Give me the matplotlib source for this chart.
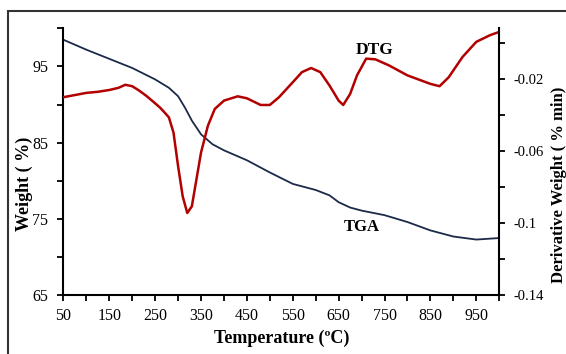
import matplotlib.pyplot as plt
from matplotlib.patches import Rectangle

# TGA curve (weight %, left axis)
tga_temp = [50, 100, 150, 200, 250, 280, 300, 315, 330, 350, 375, 400, 450, 500,
            550, 600, 630, 650, 675, 700, 750, 800, 850, 900, 950, 1000]
tga_weight = [98.5, 97.2, 96.0, 94.8, 93.3, 92.2, 91.1, 89.6, 87.9, 86.1, 84.8, 84.0,
              82.7, 81.1, 79.6, 78.8, 78.1, 77.2, 76.5, 76.1, 75.5, 74.6, 73.5, 72.7,
              72.3, 72.5]

# DTG curve (derivative weight, right axis)
dtg_temp = [50, 75, 100, 125, 150, 170, 185, 200, 215, 230, 245, 260, 270, 280, 290,
            300, 310, 320, 330, 340, 350, 365, 380, 400, 430, 450, 480, 500, 520,
            550, 570, 590, 610, 630, 650, 660, 675, 690, 710, 730, 760, 800, 850,
            870, 890, 920, 950, 980, 1000]
dtg_value = [-0.0302, -0.0290, -0.0278, -0.0272, -0.0262, -0.0250, -0.0233, -0.0241,
             -0.0265, -0.0293, -0.0325, -0.0358, -0.0385, -0.0414, -0.0498, -0.0684,
             -0.0851, -0.0944, -0.0907, -0.0758, -0.0609, -0.0460, -0.0367, -0.0321,
             -0.0297, -0.0308, -0.0345, -0.0345, -0.0302, -0.0219, -0.0163, -0.0140,
             -0.0163, -0.0237, -0.0321, -0.0345, -0.0284, -0.0181, -0.0088, -0.0092,
             -0.0126, -0.0181, -0.0228, -0.0241, -0.0191, -0.0079, 0.0005, 0.0042,
             0.0060]

plt.rcParams['font.family'] = ['Liberation Serif', 'DejaVu Serif']

fig = plt.figure(figsize=(5.66, 3.54), dpi=100)
ax = fig.add_axes([0.112, 0.166, 0.770, 0.754])
ax2 = ax.twinx()

ax.plot(tga_temp, tga_weight, color='#1b2a48', lw=1.3)
ax2.plot(dtg_temp, dtg_value, color='#b30000', lw=1.8)

ax.set_xlim(50, 1000)
ax.set_ylim(65, 100)
ax2.set_ylim(-0.14, 0.008)

ax.set_xticks(range(50, 1000, 100))
ax.set_xticks(range(100, 1001, 100), minor=True)
ax.set_yticks([65, 75, 85, 95])
ax.set_yticks([70, 80, 90, 100], minor=True)
ax2.set_yticks([-0.14, -0.1, -0.06, -0.02])
ax2.set_yticklabels(['-0.14', '-0.1', '-0.06', '-0.02'])
ax2.set_yticks([-0.12, -0.08, -0.04, 0.0], minor=True)

for a in (ax, ax2):
    a.tick_params(which='both', direction='out', length=4, width=1.3,
                  labelsize=11.5, colors='black')
    a.spines['top'].set_visible(False)
    for side in ('left', 'right', 'bottom'):
        a.spines[side].set_linewidth(1.5)
ax.tick_params(axis='x', pad=5)
ax.tick_params(axis='y', pad=7)
ax2.tick_params(axis='y', labelsize=10.5, pad=6)
ax.spines['right'].set_visible(False)
ax2.spines['left'].set_visible(False)
ax2.spines['bottom'].set_visible(False)

ax.set_xlabel('Temperature (ºC)', fontsize=13, fontweight='bold', labelpad=4)
ax.set_ylabel('Weight ( %)', fontsize=13, fontweight='bold')
ax.yaxis.set_label_coords(-0.070, 0.417)
ax2.set_ylabel('Derivative Weight ( % min)', fontsize=12, fontweight='bold')
ax2.yaxis.set_label_coords(1.119, 0.413)

ax.text(728, 97.2, 'DTG', fontsize=12.5, fontweight='bold', ha='center', va='center')
ax.text(700, 74.0, 'TGA', fontsize=12, fontweight='bold', ha='center', va='center')

# outer frame
fig.patches.append(Rectangle((0.014, -0.05), 1.1, 0.97 + 0.05, transform=fig.transFigure,
                             fill=False, edgecolor='#333333', lw=1.5))

fig.savefig('out.png', dpi=100)
